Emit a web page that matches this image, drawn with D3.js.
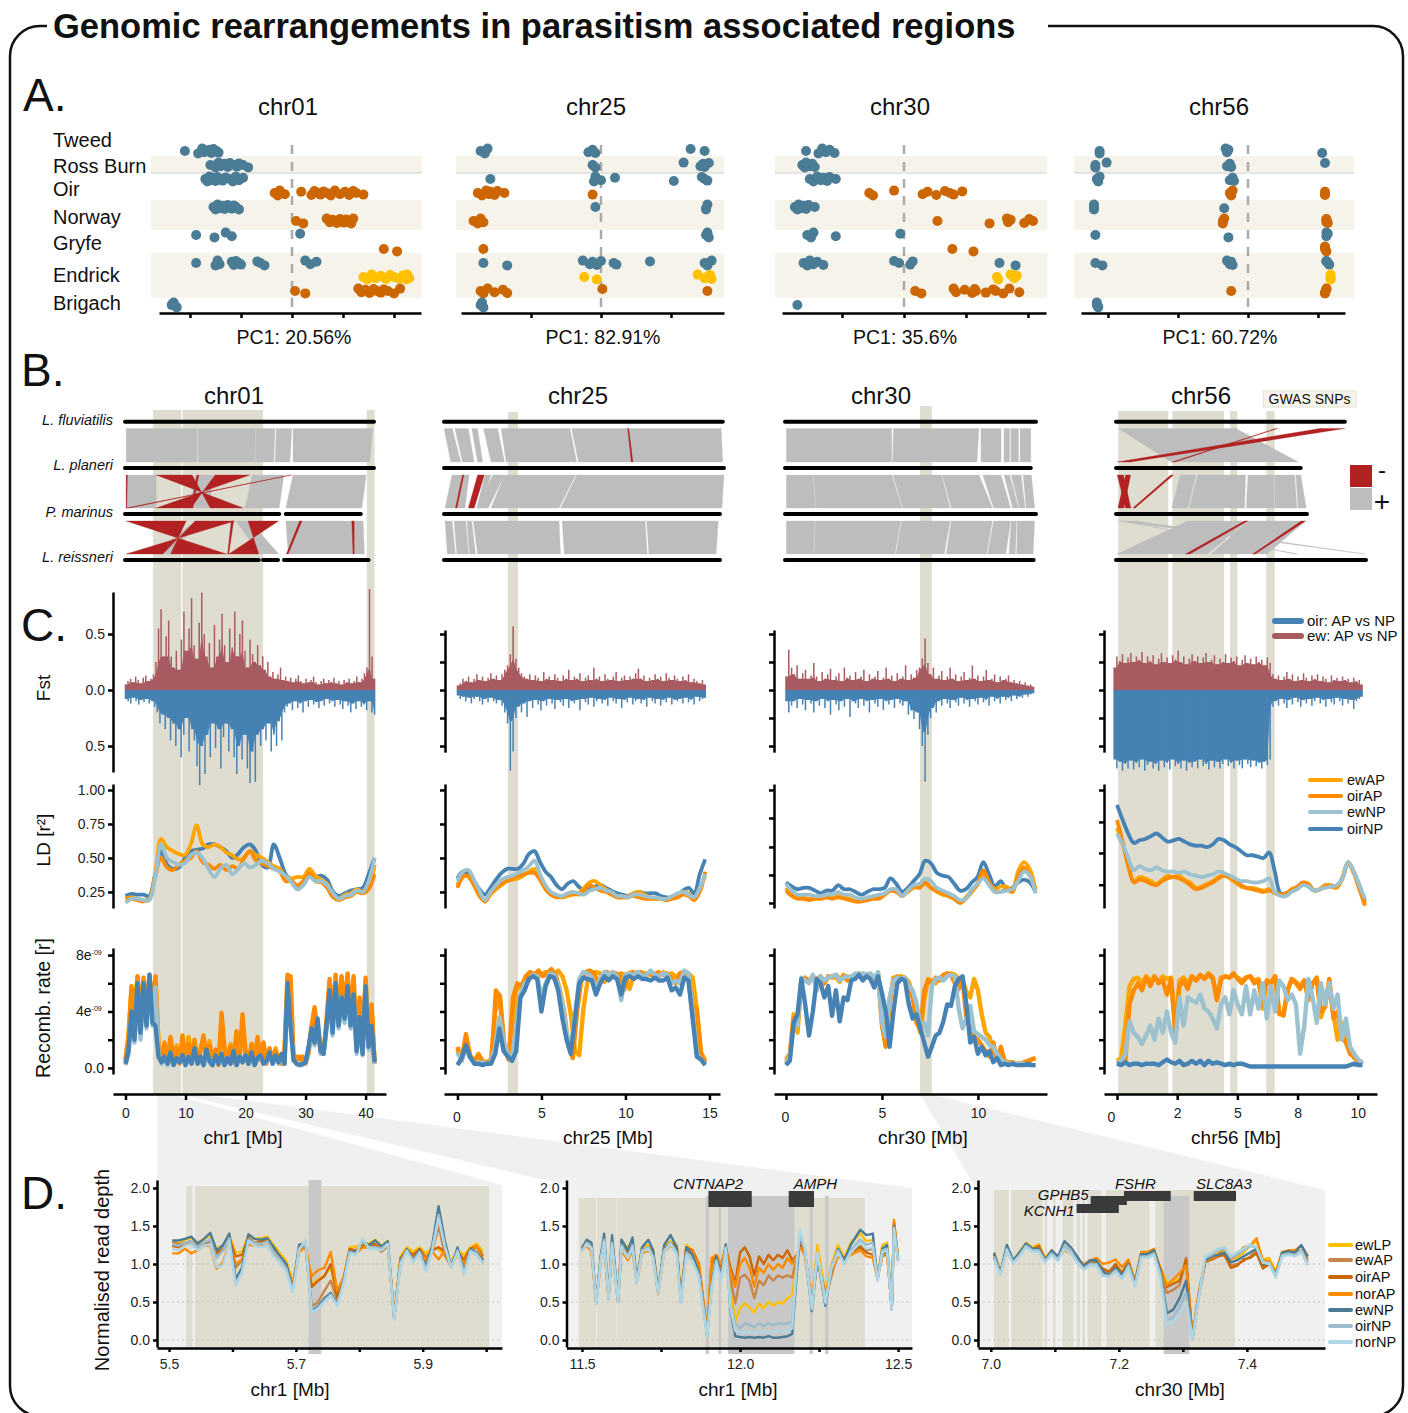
<!DOCTYPE html>
<meta charset="utf-8">
<style>
body { margin: 0; background: #fff; }
svg { display: block; }
text { font-family: "Liberation Sans", Arial, sans-serif; fill: #111; }
.domain, .tick line { stroke: #000; stroke-width: 2.5px; }
.tick text { font-size: 14px; fill: #222; }
</style>
<svg width="1408" height="1413"></svg>
<script src="https://cdn.jsdelivr.net/npm/d3@7"></script>
<script>
// ---- panel A : PC1 scores, one list per row, same order as pcRows
var pcRows = ["tweedN","rossN","oirN","oirA","norN","norA","gryN","gryA","endN","endL","endA","briN"];
var pcColors = {N:"#4a7c96", A:"#cc6600", L:"#ffc000"};
var popNames = ["Tweed","Ross Burn","Oir","Norway","Gryfe","Endrick","Brigach"];
var pcChr01 = [
 [-10.5,-9.2,-8.8,-8.6,-8.1,-7.9,-7.7,-7.4,-7.2],
 [-8,-7.5,-7.2,-7,-6.6,-6.3,-6.1,-5.7,-5.4,-5.2,-4.8,-4.3],
 [-8.5,-8.3,-8.1,-7.9,-7.7,-7.5,-7.3,-7.1,-6.8,-6.5,-6.1,-5.8,-5.5,-5.2,-4.8],
 [-1.7,-1.4,-1.2,-.7,.9,1.9,2.2,2.5,2.8,3.1,3.4,3.8,4.2,4.7,5.2,5.6,6,6.3,7],
 [-7.7,-7.5,-7.3,-7,-6.8,-6.6,-6.3,-6.1,-5.9,-5.7,-5.5,-5.2],
 [.4,1.1,3.4,3.7,4,4.4,4.7,4.9,5.1,5.3,5.6,5.8,6],
 [-9.4,-7.6,-6.5,-5.9,.8],
 [9,10.3],
 [-9.4,-7.5,-7.3,-7.1,-5.9,-5.7,-5.5,-5.2,-5,-3.4,-3.1,-2.7,1.3,1.8,2.4],
 [7,7.4,7.8,8.2,8.7,9.2,9.6,10,10.5,10.9,11,11.2,11.3,11.5],
 [.3,1.3,6.5,6.8,7.2,7.6,8,8.3,8.7,9,9.4,10,10.6],
 [-11.8,-11.3,-11.6,-11.4,-11.7]];
var pcChr25 = [
 [-8.6,-8.3,-8.1,-.9,-.6,-.4,6.4,7.4],
 [-.6,-.4,5.9,7.1,7.3,7.4,7.7],
 [-7.9,-.5,-.4,0,1,5.2,7.2,7.4,7.6],
 [-8.8,-8.5,-8.2,-8,-7.9,-7.6,-7.4,-6.9,-.6],
 [-.4,7.5,7.6,7.5],
 [-9.1,-8.8,-8.6,-8.4],
 [7.5,7.7,7.6],
 [-8.4],
 [-8.4,-6.7,-1.3,-.8,-.6,-.3,0,.9,1.1,3.5,7.4,7.6,7.9],
 [-1.2,-.3,6.9,7.4,7.7,7.9,7.8],
 [-8.6,-8.4,-8.1,-7.6,-7,-6.7,.1,7.6],
 [-8.6,-8.4,-8.5]];
var pcChr30 = [
 [-7.9,-6.9,-6.6,-6.3,-6,-5.6],
 [-8.2,-8,-7.9,-7.6,-7.4,-7.2],
 [-7.6,-7.3,-7,-6.7,-6.5,-6.2,-6,-5.5],
 [-2.8,-2.5,-.8,1.5,1.9,2.6,3.3,3.7,4,4.7],
 [-8.8,-8.6,-8.5,-8.3,-8.1,-7.9,-7.7,-7.2],
 [2.7,6.9,8.3,8.4,8.6,9.7,10.1,10.4],
 [-7.8,-7.5,-7.3,-5.5,-.3],
 [3.9,5.6],
 [-8.1,-7.8,-7.6,-7.3,-7,-6.5,-.8,-.4,.5,.7,7.7,9],
 [7.5,7.6,8.6,8.9,9.1],
 [.9,1.4,4,4.2,4.9,5.5,5.7,5.8,6.6,7.2,7.4,8,8.5,9.3],
 [-8.6]];
var pcChr56 = [
 [-10.6,-10.6,-1.6,-1.5,-1.4,5.3],
 [-10.9,-10.9,-10.1,-1.5,-1.3,-1.2,5.5],
 [-10.8,-10.7,-10.6,-1.3,-1.1,-1],
 [-1.3,-1.2,-1.1,5.5,5.5,5.5],
 [-11,-11,-11,-1.7],
 [-1.8,-1.8,-1.7,5.6,5.6,5.7,5.6],
 [-10.9,-1.4,5.6,5.6,5.7],
 [5.5,5.6,5.5],
 [-10.9,-10.4,-1.5,-1.3,-1.2,-1.1,5.6,5.7,5.8,5.6],
 [5.9,5.9,5.9,5.9],
 [-1.2,5.5,5.6,5.5,5.6],
 [-10.8,-10.7,-10.8,-10.7]];
var pcLabels = ["PC1: 20.56%","PC1: 82.91%","PC1: 35.6%","PC1: 60.72%"];
var jitter = [0,2.4,-2.4,1.2,-1.2,2,-2,0,1.6,-1.6];

// ---- panel B : synteny blocks [row, topStart, topEnd, bottomStart, bottomEnd, strand] in Mb
var speciesNames = ["L. fluviatilis","L. planeri","P. marinus","L. reissneri"];
var chr01Links = [
 [0,.2,12,.2,12,"+"],[0,12.2,21.7,12.2,21.6,"+"],[0,21.8,25,21.7,24.8,"+"],[0,25.2,27.8,25,27.5,"+"],[0,28,41.3,28,40.8,"+"],
 [1,.2,5.2,.2,5.2,"+"],[1,11.7,14.7,10.8,14,"+"],[1,21.2,26.5,20,25.7,"+"],[1,28,40.2,26.8,39.5,"+"],
 [1,5.2,11.2,19.7,14.2,"-"],[1,15,20.8,11,5.2,"-"],[1,27.5,27.8,.2,.8,"-"],[1,.2,.4,.2,.3,"-"],[1,12,12.3,11,11.3,"-"],
 [2,11.7,12.6,4.7,7.5,"+"],[2,18.5,20.8,22.4,25.6,"+"],[2,26.8,39.7,27.2,39.9,"+"],
 [2,.2,10.2,16.9,7.6,"-"],[2,11.7,18.3,6.3,.2,"-"],[2,20.5,25.6,22.3,17.3,"-"],[2,17.7,18.1,17.1,17.3,"-"],[2,29.1,29.5,26.9,27.2,"-"],[2,37.8,38.2,38,38.2,"-"]];
var chr25Links = [
 [0,0,.5,.4,1,"+"],[0,.65,1.45,1.1,1.8,"+"],[0,1.65,2,2,2.3,"+"],[0,2.35,3.2,2.8,3.6,"+"],[0,3.4,7.5,3.7,7.9,"+"],[0,7.6,16.5,8,16.6,"+"],[0,10.93,11,11.15,11.25,"-"],
 [1,.48,1.5,.06,1.25,"+"],[1,2.44,2.8,1.94,2.2,"+"],[1,2.9,3.6,2,2.64,"+"],[1,3.6,7.84,2.8,6.85,"+"],[1,7.9,16.67,6.94,16.55,"+"],[1,1.1,1.19,.68,.77,"-"],[1,2,2.4,1.45,1.8,"-"],
 [2,.06,.48,.2,.68,"+"],[2,.6,1.3,.76,1.45,"+"],[2,1.37,1.65,1.5,1.88,"+"],[2,1.74,6.85,2,6.94,"+"],[2,7.03,11.97,7.16,12.1,"+"],[2,12.06,16.33,12.2,16.2,"+"]];
var chr30Links = [
 [0,.07,5.56,.07,5.56,"+"],[0,5.65,10.1,5.6,10,"+"],[0,10.2,11.25,10.2,11.25,"+"],[0,11.4,11.7,11.4,11.7,"+"],[0,11.76,12.16,11.76,12.16,"+"],[0,12.24,12.8,12.24,12.8,"+"],
 [1,.07,1.45,.07,1.61,"+"],[1,1.47,5.57,1.63,6.1,"+"],[1,5.62,8.15,6.13,8.6,"+"],[1,8.18,10.1,8.66,10.8,"+"],[1,10.3,11.25,10.86,11.75,"+"],[1,11.4,11.7,11.85,12.16,"+"],[1,11.77,12.3,12.2,12.5,"+"],[1,12.4,12.83,12.55,13,"+"],
 [2,.07,1.56,.07,1.49,"+"],[2,1.58,6.03,1.52,5.73,"+"],[2,6.07,8.6,5.77,8.3,"+"],[2,8.65,10.8,8.4,10.5,"+"],[2,10.86,11.75,10.55,11.5,"+"],[2,11.78,12.06,11.66,12,"+"],[2,12.1,13,12.06,12.92,"+"]];
var chr56Links = [
 [0,.1,5,2.3,7.6,"+"],[0,6.65,6.74,2.33,2.46,"-"],[0,8.5,9.54,.05,.6,"-"],
 [1,2.68,3.33,2.33,2.99,"+"],[1,3.4,5.4,3.05,5.36,"+"],[1,5.5,6.56,5.43,6.6,"+"],[1,6.6,7.45,6.62,7.54,"+"],[1,7.5,7.7,7.58,7.93,"+"],
 [1,.05,.31,.4,.62,"-"],[1,.4,.61,.08,.33,"-"],[1,2.28,2.4,.7,.8,"-"],
 [2,.1,.84,10.3,10.4,"+"],[2,.2,.3,7.45,7.6,"+"],[2,2.99,5.49,.04,3.8,"+"],[2,5.49,7.9,3.96,6.3,"+"],
 [2,5.35,5.49,2.9,3.08,"-"],[2,7.72,7.9,5.7,5.8,"-"]];

// ---- panel C : highlighted regions in Mb
var regionsChr01 = [[4.6,9.3],[9.5,22.9],[40.2,41.5]];
var regionsChr25 = [[3,3.6]];
var regionsChr30 = [[6.98,7.6]];
var regionsChr56 = [[.05,2.13],[2.3,4.45],[4.7,5],[6.2,6.55]];

// Fst, upper (ew) and lower (oir) side
var fstEw01 = [.05,.08,.1,.07,.12,.09,.06,.11,.13,.08,.1,.14,.25,.55,.72,.3,.48,.62,.3,.2,.35,.18,.45,.7,.35,.55,.82,.4,.28,.6,.87,.5,.3,.42,.2,.58,.3,.45,.68,.4,.25,.55,.38,.7,.3,.5,.62,.35,.2,.45,.32,.25,.4,.22,.3,.18,.25,.12,.16,.1,.14,.2,.09,.12,.08,.11,.07,.1,.13,.08,.06,.1,.07,.09,.12,.07,.05,.08,.1,.06,.09,.07,.11,.06,.08,.05,.09,.07,.1,.06,.08,.12,.07,.1,.15,.2,.9,.3,.1];
var fstOir01 = [.08,.1,.12,.07,.1,.13,.09,.11,.08,.12,.1,.15,.2,.3,.22,.35,.25,.45,.3,.5,.35,.6,.4,.25,.55,.35,.45,.68,.85,.5,.75,.4,.6,.3,.52,.35,.7,.42,.3,.55,.35,.6,.75,.5,.62,.4,.7,.83,.55,.82,.4,.5,.35,.45,.3,.55,.4,.5,.28,.45,.2,.15,.12,.18,.1,.16,.12,.2,.1,.15,.09,.13,.11,.16,.1,.14,.08,.12,.1,.15,.09,.13,.17,.1,.14,.2,.12,.17,.1,.15,.13,.18,.1,.2,.22];
var fstEw25 = [.04,.06,.1,.08,.12,.07,.1,.14,.09,.12,.08,.11,.15,.1,.13,.09,.14,.18,.22,.32,.57,.28,.2,.15,.12,.1,.14,.09,.13,.11,.08,.16,.1,.12,.09,.14,.11,.08,.13,.1,.18,.09,.12,.1,.15,.08,.11,.13,.09,.2,.1,.12,.08,.14,.1,.09,.12,.16,.08,.11,.13,.09,.12,.1,.15,.19,.1,.13,.08,.11,.09,.14,.1,.12,.08,.15,.11,.09,.13,.1,.08,.12,.09,.14,.07,.1,.08,.06,.09,.05];
var fstOir25 = [.05,.08,.06,.1,.07,.12,.08,.06,.1,.13,.08,.11,.07,.1,.12,.09,.14,.2,.3,.72,.55,.25,.15,.2,.12,.24,.1,.16,.09,.13,.18,.1,.14,.08,.12,.17,.09,.11,.14,.08,.16,.1,.12,.09,.18,.08,.11,.13,.07,.15,.1,.08,.12,.09,.14,.07,.1,.12,.08,.16,.09,.11,.07,.13,.1,.08,.12,.09,.15,.07,.1,.12,.08,.14,.09,.11,.07,.13,.09,.1,.08,.12,.07,.11,.09,.13,.06,.1,.08,.07];
var fstEw30 = [.12,.36,.2,.14,.22,.1,.15,.18,.1,.13,.24,.12,.08,.16,.1,.14,.19,.09,.12,.15,.08,.2,.11,.13,.09,.16,.1,.12,.18,.08,.14,.1,.12,.17,.09,.11,.2,.1,.13,.08,.15,.1,.12,.22,.09,.14,.11,.18,.2,.28,.46,.24,.14,.2,.1,.13,.17,.09,.12,.2,.1,.14,.08,.12,.16,.09,.11,.22,.1,.13,.08,.12,.18,.09,.1,.14,.07,.12,.09,.1,.13,.07,.09,.06,.08,.05,.07,.04,.05,.03];
var fstOir30 = [.1,.2,.14,.1,.16,.08,.13,.18,.09,.12,.2,.1,.14,.08,.16,.1,.22,.09,.13,.18,.1,.15,.08,.24,.1,.12,.16,.08,.14,.1,.2,.09,.12,.15,.08,.18,.1,.13,.09,.16,.08,.12,.14,.1,.22,.18,.26,.2,.35,.5,.82,.4,.25,.16,.2,.1,.14,.08,.12,.16,.09,.11,.14,.07,.12,.09,.15,.08,.1,.13,.07,.11,.09,.14,.06,.1,.08,.12,.06,.09,.07,.1,.05,.08,.06,.07,.04,.06,.04,.03];
var fstEw56 = [.2,.3,.26,.32,.24,.29,.33,.25,.3,.27,.34,.24,.3,.26,.31,.23,.28,.33,.25,.29,.24,.31,.27,.35,.25,.3,.23,.28,.32,.26,.3,.24,.29,.33,.25,.27,.31,.23,.28,.25,.32,.24,.29,.26,.3,.22,.27,.31,.24,.28,.23,.3,.25,.27,.22,.29,.24,.14,.1,.13,.09,.12,.16,.1,.14,.08,.12,.09,.15,.11,.08,.13,.1,.14,.08,.12,.1,.07,.13,.09,.11,.08,.12,.09,.1,.07,.11,.08,.09,.05];
var fstOir56 = [.62,.7,.64,.72,.66,.7,.63,.71,.65,.69,.62,.72,.67,.64,.7,.66,.72,.63,.69,.65,.71,.62,.68,.66,.7,.63,.72,.65,.69,.64,.7,.62,.68,.66,.71,.63,.69,.64,.7,.66,.62,.68,.65,.7,.63,.67,.7,.62,.66,.69,.63,.68,.65,.7,.64,.67,.62,.15,.1,.14,.08,.12,.16,.09,.13,.07,.11,.15,.09,.12,.08,.14,.1,.07,.12,.09,.15,.08,.11,.13,.07,.1,.14,.08,.12,.09,.17,.1,.08,.06];

// LD [r2]
var ldEwAP01 = [.2,.21,.2,.19,.19,.38,.64,.58,.55,.53,.52,.6,.74,.6,.58,.6,.58,.54,.52,.49,.5,.55,.52,.5,.47,.44,.42,.36,.35,.36,.36,.42,.37,.34,.31,.22,.2,.23,.24,.27,.25,.28,.45];
var ldOirAP01 = [.2,.2,.19,.18,.2,.36,.5,.43,.41,.45,.48,.5,.55,.47,.45,.42,.45,.41,.44,.42,.5,.55,.48,.46,.44,.42,.4,.33,.33,.3,.33,.39,.33,.32,.28,.21,.19,.21,.22,.25,.24,.27,.38];
var ldEwNP01 = [.17,.2,.2,.19,.19,.35,.6,.5,.47,.45,.46,.52,.54,.5,.42,.36,.42,.45,.38,.42,.46,.43,.45,.48,.46,.42,.4,.37,.32,.27,.3,.36,.33,.33,.3,.24,.2,.22,.23,.26,.25,.33,.5];
var ldOirNP01 = [.22,.235,.23,.23,.22,.38,.55,.45,.42,.43,.5,.55,.56,.57,.6,.6,.58,.55,.5,.53,.58,.6,.55,.45,.43,.6,.5,.38,.33,.27,.33,.36,.36,.37,.34,.25,.22,.24,.26,.27,.28,.38,.5];
var ldEwAP25 = [.3,.37,.36,.3,.24,.18,.23,.27,.3,.33,.34,.35,.37,.4,.42,.35,.28,.23,.22,.21,.22,.23,.24,.28,.32,.33,.3,.27,.24,.22,.21,.21,.24,.25,.23,.21,.2,.2,.19,.21,.23,.25,.24,.2,.27,.37];
var ldOirAP25 = [.28,.36,.37,.3,.22,.18,.24,.28,.31,.33,.35,.37,.38,.39,.39,.34,.27,.23,.21,.22,.23,.24,.23,.26,.3,.28,.26,.25,.23,.21,.21,.22,.22,.21,.2,.2,.2,.2,.19,.2,.21,.23,.22,.19,.25,.4];
var ldEwNP25 = [.33,.4,.41,.34,.26,.19,.25,.3,.34,.36,.37,.39,.41,.44,.48,.38,.3,.25,.23,.22,.24,.25,.24,.23,.26,.27,.28,.26,.25,.22,.22,.21,.23,.23,.22,.21,.21,.2,.2,.22,.24,.25,.23,.21,.28,.38];
var ldOirNP25 = [.35,.4,.38,.33,.27,.23,.28,.34,.39,.42,.42,.42,.46,.53,.55,.47,.4,.36,.3,.27,.31,.33,.29,.26,.27,.29,.3,.28,.26,.24,.23,.22,.24,.25,.24,.24,.24,.22,.21,.21,.23,.26,.28,.24,.38,.49];
var ldEwAP30 = [.28,.23,.22,.21,.2,.21,.21,.23,.22,.24,.21,.2,.18,.19,.2,.21,.21,.23,.26,.26,.22,.25,.28,.29,.31,.28,.25,.23,.22,.2,.17,.21,.26,.3,.38,.32,.27,.29,.29,.26,.4,.47,.42,.27];
var ldOirAP30 = [.26,.22,.2,.2,.19,.2,.2,.21,.2,.21,.2,.19,.18,.18,.19,.2,.2,.23,.26,.25,.22,.26,.29,.28,.32,.28,.26,.24,.22,.2,.17,.2,.25,.31,.41,.32,.25,.25,.27,.25,.36,.43,.37,.26];
var ldEwNP30 = [.31,.26,.23,.23,.23,.22,.22,.23,.23,.25,.23,.23,.21,.2,.21,.22,.23,.24,.27,.27,.22,.26,.3,.31,.35,.33,.28,.26,.24,.22,.19,.2,.27,.31,.35,.3,.25,.25,.26,.27,.33,.4,.37,.24];
var ldOirNP30 = [.32,.29,.27,.28,.28,.26,.24,.26,.26,.3,.27,.27,.25,.23,.25,.27,.27,.28,.35,.31,.25,.28,.33,.38,.48,.46,.39,.37,.36,.31,.26,.27,.32,.36,.47,.38,.29,.33,.27,.28,.32,.34,.32,.25];
var ldEwAP56 = [.72,.6,.45,.33,.36,.35,.33,.31,.34,.37,.36,.37,.34,.32,.28,.29,.31,.33,.36,.37,.35,.32,.29,.28,.28,.27,.26,.27,.24,.23,.23,.26,.28,.31,.3,.26,.27,.3,.29,.28,.36,.47,.4,.28,.17];
var ldOirAP56 = [.78,.62,.44,.32,.34,.33,.31,.3,.33,.35,.36,.35,.33,.3,.27,.28,.3,.32,.35,.37,.36,.33,.3,.28,.27,.26,.25,.26,.25,.23,.24,.27,.29,.32,.31,.26,.27,.29,.3,.29,.35,.46,.39,.27,.15];
var ldEwNP56 = [.68,.6,.5,.41,.44,.42,.41,.43,.41,.4,.4,.39,.4,.38,.37,.36,.37,.38,.4,.39,.37,.35,.33,.33,.32,.32,.33,.35,.25,.22,.22,.25,.27,.3,.29,.26,.27,.28,.29,.3,.35,.47,.4,.3,.2];
var ldOirNP56 = [.89,.78,.68,.61,.63,.64,.66,.68,.65,.62,.63,.64,.62,.6,.59,.59,.58,.6,.64,.63,.6,.58,.55,.52,.52,.51,.5,.54,.4,.24,.24,.26,.28,.31,.29,.26,.27,.3,.29,.29,.35,.47,.4,.3,.18];

// recombination rate, units of 1e-9
var rrEwAP01 = [.6,2.4,5.5,3.6,6.4,4,6.2,3.6,6.5,4,6.4,1.8,.6,1.5,.5,2,.4,1.6,.6,1.9,.4,2.2,.8,1.6,.4,1.4,2.1,.6,1.9,.5,1.2,.4,3,1.2,.6,1.7,.5,2.2,.8,3,1.2,.5,1.5,.6,2,.7,1.5,.4,1.2,.6,1.4,.5,.4,1.1,6.4,6,.7,.6,.8,.5,.4,1,2.6,4,2.2,1.4,1.2,3,6,3.5,6.3,3.2,6.4,4.5,6.5,3.5,6.3,1.7,4.6,1.4,6.2,2,4.2,.4];
var rrOirAP01 = [.5,2,5.8,4,6.5,3.5,6.4,4,6.6,4.2,6.5,1.5,.5,1.8,.4,2.2,.6,1.4,.3,2.3,.5,1.7,.6,2,.3,1.2,2.3,.5,1.6,.4,1.3,.2,3.9,1.4,.5,1.5,.4,2.6,.6,3.8,1,.3,1.7,.4,2.2,.6,1.8,.3,1.4,.5,1.2,.4,.3,1.3,6.6,6.5,.5,.8,.6,.8,.3,1.2,3,4.3,2.5,1.5,1,3.5,6.3,3,6.6,3.5,6.5,4,6.7,3,6.5,1.5,5,1.5,6.4,1.8,4.5,.3];
var rrEwNP01 = [.2,1,3.5,1.8,5.8,2,5.8,2.8,6.2,3,5.7,1,.3,.7,.2,.9,.2,.6,.4,.7,.2,.8,.3,1.1,.3,.7,.2,1.1,.4,.2,.8,.3,.8,.2,.6,.3,1,.2,.7,.4,.8,.3,.9,.2,.7,.8,.3,.4,.9,.3,.8,.3,.8,.3,5.8,3,.5,.3,.2,.2,.4,1.3,2.5,1.6,3.2,1,1,2.7,5.2,2.3,5.7,2.8,4.8,3.2,5.6,2.8,5,1,3.4,.9,5.6,1.3,2.8,.3];
var rrOirNP01 = [.3,1.2,4,2,6,2.5,6,3,6.6,3.2,3,.8,.4,.8,.3,1.1,.2,.7,.4,.9,.2,.8,.3,1.4,.3,.8,.2,1.3,.5,.2,.9,.3,1,.2,.7,.3,1.2,.2,.8,.4,.9,.3,1.1,.2,.7,.9,.3,.5,1.1,.3,.9,.4,1,.3,6,3,.6,.3,.2,.3,.4,1.5,2.8,1.8,3.5,1.2,1,3,5.5,2.5,6,3,5,3.5,5.8,3,5.2,1.2,3.6,1,5.8,1.5,3,.4];
var rrEwAP25 = [1.3,.6,2.2,.9,.5,1,.5,.4,.6,4,5.2,1.8,.8,1.2,5.5,5.8,6.2,6.4,6.7,6.5,6.6,6.8,6.5,6.6,6.9,6.5,5.5,3.8,1.2,.9,4.2,6.2,6.7,6.8,6.7,6.1,6.6,6.8,6.5,6.7,6.6,5.6,6.6,6.8,6.7,6.7,6.6,6.7,6.5,6.8,6.6,6.7,6.5,6,6.7,6.7,6.4,4.2,1.1,.5];
var rrOirAP25 = [1.5,.5,2.4,.8,.4,.9,.4,.4,.5,5.5,5,1.5,.6,5,6,5.8,6.5,6.8,6.6,6.9,6.5,6.7,7,6.6,5.5,4,1.5,.7,4,6.2,6.8,6.9,6.7,6,6.6,6.8,6.5,6.7,6.6,5.5,6.7,6.8,6.7,6.8,6.6,6.7,6.5,6.8,6.6,6.7,6.4,6,6.7,6.8,6.5,4.4,4.2,1,.4];
var rrEwNP25 = [1.1,.5,1.4,.7,.4,.3,.4,.3,.4,1.5,3.6,1.9,1,.6,3,5.2,6,6.2,6.6,6.5,5,6,6.7,6.6,5.8,4.5,2.5,1.4,3.8,6.3,6.8,6.7,6.4,5.5,6.3,6.8,6.6,6.8,6.5,4.8,6.6,6.7,6.6,6.8,6.5,6.6,6.9,6.6,6.5,6.7,6.6,6,6.2,6,6.9,6.7,4,1,.6,.3];
var rrOirNP25 = [.2,.7,1.6,.8,.3,.3,.2,.3,.3,1,2.8,1.2,.8,.5,1.2,5,5.5,6.3,6.5,6.3,4,5.8,6.5,6.4,5.5,3.5,2,1,3.5,6,6.4,6.3,6.2,5.2,6,6.5,6.2,6.5,6.3,5.2,6.4,6.5,6.3,6.5,6.3,6.3,6.2,6.4,6.2,6.2,6.4,5.5,5.7,5.2,6.4,6.2,3.5,.8,.6,.2];
var rrEwAP30 = [.6,1,3.8,2.5,6.2,6.4,6.1,6.4,6.3,6.5,6,6.4,6.5,6.4,6.1,6.6,6.3,6.4,6.6,6.6,6.4,6.6,6.5,6.3,6.6,3.5,1.6,4.5,6.4,6.3,6.5,6.4,6.1,5.2,3.5,2.5,4.8,6.3,6.2,6,6.4,6.3,6.6,6.7,6.6,6.3,6.2,5.4,5,6.3,5.5,3.8,2.5,2.2,1.2,.8,.6,.5,.4,.4,.3,.3,.3,.4,.6,.7];
var rrOirAP30 = [.4,.8,3.5,3,6,6.3,6.2,6.5,6.2,6.4,6,6.5,6.4,6.6,6.3,6.5,6.2,6.5,6.6,6.7,6.4,6.6,6.5,6.4,6.6,3,1.5,4.8,6.3,6.5,6.4,6.3,5.8,5,3.2,2.7,5.5,6.2,6,6.4,6.2,6.6,6.7,6.6,6,5.6,6.3,3.5,2.8,2.2,2,1.6,1.2,.8,1.8,.6,1.5,.4,.3,.4,.3,.3,.4,.5,.6,.7];
var rrEwNP30 = [.3,.8,3,3,6.4,6.2,6,6.6,5.5,6.5,6.2,6.4,6.5,6.6,6.2,6.4,6.5,6.4,6.7,6.6,6.7,6.6,6.7,6.4,6.8,3.2,2.2,5,6.2,6.4,6.3,6.4,5.8,5.5,4.6,3,3.2,2.3,5.8,6.3,6.4,6.2,6.5,6.6,6.5,4.2,2.8,3.5,4.4,2.6,2.4,2.2,2,1.6,1.5,1,.6,.4,.3,.3,.3,.3,.3,.2,.2,.2];
var rrOirNP30 = [.2,.5,3.2,3.8,6.3,4.5,2.3,4,6.3,6,5,5.8,3.7,5.5,3.3,5,4.8,6.2,6.3,6.6,6.2,6.5,6.3,5.7,6.5,5.3,4,1.5,4,6,6.3,6.2,4.5,3.5,3.8,2.8,1.8,.8,1.5,2.3,2.5,3.3,4.5,4.4,5.8,6.3,6.5,4.5,1.8,2.2,1,1.5,.9,1.2,.4,.7,.2,.3,.2,.3,.2,.2,.2,.3,.2,.2];
var rrEwAP56 = [.5,.7,3,5.8,6.3,6.4,6,6.5,6.2,6.4,6.1,6.5,6.3,6.4,2.8,6.2,6.4,6,6.5,6.2,6.5,6.4,6.6,6.3,5,6.4,6.5,6.4,6.6,6.4,6.2,6.4,6.5,6.2,6.3,4.2,6.2,6.1,6.5,3.8,3.9,5.5,6.3,6.1,5.8,6.2,5,6,6.3,3.6,4.5,6.2,3.8,2,3.2,2,1.2,.7,.5,.4];
var rrOirAP56 = [.3,.4,.5,4.5,5.5,6,5.5,6.4,5.8,6.5,6,6.2,5.2,6.3,2.5,5.8,6.2,5.6,6.5,6.2,6.6,6.3,6.7,6.4,4.8,6.3,6.5,6.4,6.7,6.3,6,6.4,6.5,6,6.2,4.5,6.2,6,6.5,3.9,3.7,5.5,6.3,6,5.6,6.2,4.8,6,6.4,4,4.3,6.3,3.5,4,2.2,1.8,1,.8,.5,.3];
var rrEwNP56 = [.3,.5,1,3.3,2.5,2.2,1.7,2.3,3,2,3.5,2.5,4,2.5,1.8,5,3,5,4.8,4.6,5.2,4.2,4,3.5,2.8,4.5,5,3.8,5.5,4.5,3.8,5.8,3.8,5.5,4.2,6,3.5,5.8,4,6.2,5.8,4.8,5.2,4.5,1,3,6.3,5,3.2,6,4.5,6,4.2,5.2,2,3.5,1.5,1,.6,.3];
var rrOirNP56 = [.3,.2,.4,.2,.3,.3,.2,.3,.3,.3,.2,.4,.6,.4,.3,.5,.2,.3,.5,.3,.5,.2,.5,.3,.4,.3,.2,.3,.2,.3,.3,.2,.1,.1,.1,.1,.1,.1,.1,.1,.1,.1,.1,.1,.1,.1,.1,.1,.1,.1,.1,.1,.1,.1,.1,.1,.2,.3,.2,.2];

// ---- panel D : normalised read depth x100
var d1EwLP = [130,128,132,134,128,133,138,120,124,138,115,116,138,133,134,136,125,114,104,76,118,128,73,80,85,95,60,82,122,123,125,127,132,124,130,30,110,122,116,122,114,122,120,110,104,118,112,122,127,116];
var d1EwAP = [128,126,128,130,124,128,132,112,118,132,95,105,132,128,130,130,118,106,96,70,116,124,44,50,65,78,52,78,118,118,122,122,124,116,124,30,106,118,110,118,102,116,150,112,96,118,98,118,122,106];
var d1OirAP = [124,122,126,128,122,126,128,115,120,134,110,112,134,128,130,132,120,110,98,72,118,126,70,78,84,100,58,78,120,118,124,125,126,118,126,30,108,118,112,120,108,118,122,116,98,116,106,120,124,110];
var d1NorAP = [114,114,120,114,118,124,124,94,102,130,100,106,126,124,124,124,114,104,94,74,116,122,84,92,95,116,65,82,116,114,122,122,122,120,124,30,104,116,108,116,106,116,106,118,96,114,100,116,124,104];
var d1EwNP = [131,131,133,136,127,133,141,118,125,140,80,95,139,133,132,134,122,110,100,66,125,128,38,44,55,62,47,78,117,115,130,125,131,123,130,28,103,120,105,118,95,125,176,130,97,122,88,120,115,105];
var d1OirNP = [126,124,128,130,122,128,132,108,118,134,74,90,132,128,126,130,116,106,94,64,120,128,36,42,52,60,46,76,116,113,132,122,122,120,127,27,102,118,104,116,92,120,165,124,96,118,87,118,114,102];
var d1NorNP = [120,118,124,126,118,124,126,96,98,130,72,88,130,124,122,124,110,102,90,63,118,132,36,41,50,58,45,74,114,112,134,120,120,118,126,27,100,117,102,114,90,118,160,122,95,116,86,116,112,100];
var d2X = [11.5,11.515,11.53,11.545,11.56,11.57,11.584,11.595,11.614,11.625,11.645,11.66,11.673,11.69,11.71,11.725,11.741,11.76,11.78,11.8,11.8125,11.83,11.85,11.87,11.896,11.91,11.925,11.94,11.955,11.97,11.985,12,12.015,12.03,12.045,12.06,12.075,12.09,12.105,12.12,12.135,12.15,12.165,12.18,12.19,12.205,12.227,12.245,12.27,12.29,12.31,12.33,12.35,12.38,12.4,12.42,12.435,12.45,12.465,12.48,12.487,12.5];
var d2EwLP = [122,128,120,50,110,132,56,130,52,130,122,128,78,122,125,118,65,122,130,125,55,125,118,100,8,100,108,95,125,65,24,42,48,43,36,48,42,50,45,50,48,55,60,110,130,115,50,125,60,100,125,108,128,140,130,132,82,125,128,42,150,110];
var d2EwAP = [120,126,118,48,108,128,54,125,50,122,112,120,76,118,120,112,62,118,126,118,52,118,112,95,8,100,105,92,120,80,48,82,86,78,55,78,72,85,78,85,82,85,82,110,128,112,48,105,55,85,115,105,118,125,118,120,80,115,118,40,155,105];
var d2OirAP = [122,130,120,50,112,130,55,128,52,125,115,125,78,118,122,115,63,120,128,122,54,122,118,100,9,105,110,98,122,95,75,115,122,110,85,110,100,112,105,112,108,118,105,112,125,115,50,108,60,90,112,108,115,122,115,112,82,112,115,42,155,108];
var d2NorAP = [118,124,116,49,106,126,54,122,50,118,105,118,74,114,118,110,60,116,124,118,52,120,116,98,8,108,112,100,118,88,70,100,108,95,70,95,88,100,92,100,95,108,100,112,122,112,48,105,58,90,110,105,112,118,110,108,80,110,112,42,158,105];
var d2EwNP = [120,132,128,50,112,140,56,138,52,132,118,135,78,122,132,118,64,125,138,122,52,122,112,88,5,72,110,82,126,40,5,4,3,4,3,4,3,5,3,3,4,5,8,90,138,120,38,110,45,95,120,105,125,145,138,140,80,120,125,40,150,105];
var d2OirNP = [118,128,122,48,108,132,55,128,50,125,110,125,75,118,122,110,62,118,128,115,50,115,105,85,5,70,105,80,122,45,22,15,22,20,17,22,18,22,20,22,21,22,25,100,140,118,40,112,48,98,118,100,118,132,125,128,80,118,120,40,148,105];
var d2NorNP = [116,126,120,47,106,130,54,126,49,122,108,122,74,116,120,108,61,116,126,112,49,112,102,82,4,68,102,78,120,42,12,9,11,10,9,11,10,10,11,12,11,12,15,105,145,120,42,115,50,95,115,100,115,128,120,122,78,115,118,40,146,103];
var d3EwLP = [115,90,122,104,116,128,122,126,108,118,108,122,118,106,95,103,105,92,85,95,84,100,72,112,112,116,95,75,78,80,100,3,62,105,110,114,118,108,108,115,124,130,106,108,90,115,118,113,118,104];
var d3EwAP = [108,88,120,104,114,125,120,122,106,116,108,120,116,104,94,102,103,92,86,96,86,102,74,112,111,118,92,62,66,72,108,3,60,102,106,110,112,98,100,104,110,118,96,102,84,112,116,112,116,102];
var d3OirAP = [112,88,122,104,115,126,118,124,106,116,110,120,118,102,94,100,103,94,90,100,88,104,72,114,114,118,94,70,74,78,106,3,58,104,106,110,112,95,98,106,108,114,94,100,86,114,116,114,118,106];
var d3NorAP = [106,90,118,102,112,124,118,120,104,114,108,118,114,106,100,104,108,100,102,106,96,106,78,116,116,120,90,72,80,88,98,3,64,104,108,112,122,106,112,122,124,134,104,104,88,116,118,118,124,110];
var d3EwNP = [115,88,125,105,115,127,120,120,105,118,110,130,122,110,97,105,105,90,85,95,85,100,75,113,113,118,90,35,40,55,78,2,60,105,110,112,115,102,105,110,115,120,100,100,85,115,117,115,125,110];
var d3OirNP = [110,86,120,102,112,124,118,118,104,114,106,124,118,104,94,100,100,86,84,92,82,98,72,110,110,114,86,26,30,44,62,2,58,108,112,118,120,108,112,118,124,122,102,102,84,112,114,112,118,102];
var d3NorNP = [106,86,118,100,110,122,116,116,102,112,104,120,114,102,92,98,98,84,83,90,80,96,70,108,108,112,82,20,24,34,50,2,56,110,114,120,122,110,116,120,126,122,102,100,82,110,112,110,116,98];
var d1Regions = [[5.527,5.537],[5.541,6.005]];
var d2Regions = [[11.49,11.545],[11.547,11.61],[11.612,12.395]];
var d3Regions = [[7.005,7.028],[7.032,7.081],[7.084,7.088],[7.097,7.101],[7.112,7.129],[7.134,7.139],[7.143,7.147],[7.151,7.173],[7.18,7.248],[7.257,7.381]];
var d1Dark = [[5.72,5.74]];
var d2Dark = [[11.891,11.902],[11.932,11.94],[11.962,12.172],[12.22,12.23],[12.269,12.28]];
var d3Dark = [[7.27,7.31]];
var d2Genes = [["CNTNAP2",11.9,12.037,"top"],["AMPH",12.154,12.234,"top"]];
var d3Genes = [["KCNH1",7.134,7.2,"low"],["GPHB5",7.156,7.2125,"mid"],["FSHR",7.208,7.281,"top"],["SLC8A3",7.317,7.383,"top"]];

var svg = d3.select("svg");
var ink = "#000";

// helper to lay a list of values out along a chromosome
function along(vals, len, start) {
	start = start || 0;
	return vals.map(function(v, i) { return [start + i * len / (vals.length - 1), v]; });
}
function rotLabel(x, y, txt, size) {
	return svg.append("text").attr("transform", "translate(" + x + "," + y + ") rotate(-90)")
		.attr("text-anchor", "middle").style("font-size", size + "px").text(txt);
}
function label(x, y, txt, size, anchor) {
	return svg.append("text").attr("x", x).attr("y", y).attr("text-anchor", anchor || "middle")
		.style("font-size", size + "px").text(txt);
}
function cleanAxis(g) {
	g.selectAll(".domain").attr("stroke", ink);
	g.selectAll(".tick line").attr("stroke", ink);
}
// Fst is drawn as a solid mass (lowest of the three nearest values) with one thin spike per value
function drawFst(x, y, rows, sign, color) {
	var floor = rows.map(function(d, i) {
		return [d[0], d3.min(rows.slice(Math.max(0, i - 1), i + 2), function(r) { return r[1]; })];
	});
	var mass = d3.area().x(function(d) { return x(d[0]); }).y0(y(0)).y1(function(d) { return y(sign * d[1]); });
	svg.append("path").attr("d", mass(floor)).attr("fill", color);
	svg.append("g").selectAll("line").data(rows).join("line")
		.attr("x1", function(d) { return x(d[0]); }).attr("x2", function(d) { return x(d[0]); })
		.attr("y1", y(0)).attr("y2", function(d) { return y(sign * d[1]); })
		.attr("stroke", color).attr("stroke-width", 1.5);
}

// frame and title
svg.append("rect").attr("x", 10).attr("y", 26).attr("width", 1393).attr("height", 1390).attr("rx", 30)
	.attr("fill", "#fff").attr("stroke", "#111").attr("stroke-width", 2.5);
svg.append("rect").attr("x", 47).attr("y", 8).attr("width", 1001).attr("height", 38).attr("fill", "#fff");
label(53, 38, "Genomic rearrangements in parasitism associated regions", 34.5, "start").style("font-weight", "bold");
label(23, 111, "A.", 46, "start");
label(21, 386, "B.", 46, "start");
label(21, 641, "C.", 46, "start");
label(21, 1209, "D.", 46, "start");

// zoom call-outs behind panel D
var callouts = [
 [[157,1094],[170,1094],[502,1185],[502,1350],[157,1350]],
 [[178,1094],[197,1094],[912,1188],[912,1350],[566,1350],[566,1185]],
 [[920,1094],[930,1094],[1325,1190],[1325,1350],[977,1350],[977,1190]]];
svg.append("g").selectAll("polygon").data(callouts).join("polygon")
	.attr("points", function(d) { return d.join(" "); }).attr("fill", "#f0f0f0");

// ---------- panel A
var pcY = d3.scalePoint().domain(pcRows).range([151, 305]);
var pcPanels = [
 {title:"chr01", tx:288, data:pcChr01, zero:292, unit:10.2, axis:[159,421], ticks:[-10,-5,0,5,10], band:[151,422], lx:294},
 {title:"chr25", tx:596, data:pcChr25, zero:601, unit:14, axis:[461,724], ticks:[-5,0,5], band:[456,724], lx:603},
 {title:"chr30", tx:900, data:pcChr30, zero:904, unit:12.4, axis:[782,1046], ticks:[-5,0,5,10], band:[775,1047], lx:905},
 {title:"chr56", tx:1219, data:pcChr56, zero:1248, unit:14, axis:[1081,1345], ticks:[-10,-5,0,5], band:[1074,1354], lx:1220}];
var popBands = [[156,173],[200,230],[253,298]];
var popY = [147,173,196,224,250,282,310];
popNames.forEach(function(n, i) { label(53, popY[i], n, 20, "start"); });
pcPanels.forEach(function(p, pi) {
	label(p.tx, 115, p.title, 24);
	var x = d3.scaleLinear()
		.domain([(p.axis[0] - p.zero) / p.unit, (p.axis[1] - p.zero) / p.unit]).range(p.axis);
	popBands.forEach(function(b, i) {
		svg.append("rect").attr("x", p.band[0]).attr("y", b[0]).attr("width", p.band[1] - p.band[0])
			.attr("height", b[1] - b[0]).attr("fill", "#f6f3ea");
		if (i == 0) svg.append("line").attr("x1", p.band[0]).attr("x2", p.band[1]).attr("y1", b[1]).attr("y2", b[1])
			.attr("stroke", "#cfcfcf").attr("stroke-width", 1.2);
	});
	svg.append("line").attr("x1", x(0)).attr("x2", x(0)).attr("y1", 145).attr("y2", 313)
		.attr("stroke", "#aaa").attr("stroke-width", 2.5).attr("stroke-dasharray", "9 8");
	var g = svg.append("g").attr("transform", "translate(0,313)")
		.call(d3.axisBottom(x).tickValues(p.ticks).tickSize(5).tickSizeOuter(0).tickFormat(""));
	cleanAxis(g);
	pcRows.forEach(function(row, ri) {
		svg.append("g").selectAll("circle").data(p.data[ri]).join("circle")
			.attr("cx", function(d) { return x(d); })
			.attr("cy", function(d, i) { return pcY(row) + jitter[i % jitter.length]; })
			.attr("r", 5).attr("fill", pcColors[row.slice(-1)]);
	});
	label(p.lx, 344, pcLabels[pi], 19.5);
});

// ---------- shared x scales for panels B/C
var chroms = [
 {name:"chr01", lab:"chr1 [Mb]", lx:243, x:d3.scaleLinear().domain([-2.08,43.4]).range([113,386]), axX:113, ticks:[0,10,20,30,40], tl:["0","10","20","30","40"],
  regions:regionsChr01, top:410, syn:[125,374,41.5], links:chr01Links, btx:234,
  lines:[[[0,41.5]],[[0,41.5]],[[0,25.7],[26.8,39.3]],[[0,22.3],[23,25.5],[26.5,40.6]]],
  fst:[fstEw01,fstOir01,41.5,0], fstAxis:[-.732,.875],
  ld:[ldEwAP01,ldOirAP01,ldEwNP01,ldOirNP01,41.5], ldTicks:[1,.75,.5,.25],
  rr:[rrEwAP01,rrOirAP01,rrEwNP01,rrOirNP01,41.5]},
 {name:"chr25", lab:"chr25 [Mb]", lx:608, x:d3.scaleLinear().domain([-.8,15.63]).range([444,720]), axX:445, ticks:[0,5,10,15], tl:["0","5","10","15"],
  regions:regionsChr25, top:412, syn:[444,724,16.67], links:chr25Links, btx:578,
  lines:[[[0,16.6]],[[0,16.67]],[[0,16.43]],[[0,16.43]]],
  fst:[fstEw25,fstOir25,14.75,0], fstAxis:[-.555,.536],
  ld:[ldEwAP25,ldOirAP25,ldEwNP25,ldOirNP25,14.75], ldTicks:[1,.75,.5,.25],
  rr:[rrEwAP25,rrOirAP25,rrEwNP25,rrOirNP25,14.75]},
 {name:"chr30", lab:"chr30 [Mb]", lx:923, x:d3.scaleLinear().domain([-.625,13.6]).range([774,1047]), axX:774, ticks:[0,5,10], tl:["0","5","10"],
  regions:regionsChr30, top:406, syn:[785,1036,13.07], links:chr30Links, btx:881,
  lines:[[[0,13.07]],[[0,12.8]],[[0,13.07]],[[0,12.95]]],
  fst:[fstEw30,fstOir30,12.9,0], fstAxis:[-.555,.536],
  ld:[ldEwAP30,ldOirAP30,ldEwNP30,ldOirNP30,13], ldTicks:[1,.794,.581,.375,.169],
  rr:[rrEwAP30,rrOirAP30,rrEwNP30,rrOirNP30,13]},
 {name:"chr56", lab:"chr56 [Mb]", lx:1236, x:d3.scaleLinear().domain([-.54,10.8]).range([1104,1377]), axX:1104, ticks:[0,2.5,5,7.5,10], tl:["0","2","5","8","10"],
  regions:regionsChr56, top:411, syn:[1116,1366,10.42], links:chr56Links, btx:1201,
  lines:[[[0,9.54]],[[0,7.7]],[[0,7.96]],[[0,10.42]]],
  fst:[fstEw56,fstOir56,10.3,-.12], fstAxis:[-.555,.536],
  ld:[ldEwAP56,ldOirAP56,ldEwNP56,ldOirNP56,10.3], ldTicks:[1,.765,.537,.303],
  rr:[rrEwAP56,rrOirAP56,rrEwNP56,rrOirNP56,10.2]}];

var lineY = [421.7,468,514,560];
var linkY = [[428.5,462],[475,508],[521,554]];
var strandColor = {"+":"#bdbdbd", "-":"#b22222"};
speciesNames.forEach(function(s, i) {
	label(113, [425,470,517,562][i], s, 14.5, "end").style("font-style", "italic");
});

var fstY = function(c) { return d3.scaleLinear().domain(c.fstAxis).range([690 - 112 * c.fstAxis[0], 690 - 112 * c.fstAxis[1]]); };
var ldY = d3.scaleLinear().domain([.132,1.044]).range([908,784]);
var rrY = d3.scaleLinear().domain([-.43,8.5]).range([1074,948]);
var ldColors = ["#ffa500","#ff8c00","#9cc2d0","#4682b4"];

chroms.forEach(function(c, ci) {
	var x = c.x;
	// highlighted regions run from panel B through panel C
	svg.append("g").selectAll("rect").data(c.regions).join("rect")
		.attr("x", function(d) { return x(d[0]); })
		.attr("width", function(d) { return x(d[1]) - x(d[0]); })
		.attr("y", c.top).attr("height", 1094 - c.top).attr("fill", "#dfdcd0");

	// panel B
	label(c.btx, 404, c.name, 24);
	var sx = d3.scaleLinear().domain([0, c.syn[2]]).range([c.syn[0], c.syn[1]]);
	var links = c.links.filter(function(l) { return l[5] == "+"; }).concat(c.links.filter(function(l) { return l[5] == "-"; }));
	svg.append("g").selectAll("path").data(links).join("path")
		.attr("d", function(l) {
			var t = linkY[l[0]][0], b = linkY[l[0]][1];
			return "M" + sx(l[1]) + "," + t + "L" + sx(l[2]) + "," + t + "L" + sx(l[4]) + "," + b + "L" + sx(l[3]) + "," + b + "Z";
		})
		.attr("fill", function(l) { return strandColor[l[5]]; })
		.attr("stroke", function(l) { return strandColor[l[5]]; }).attr("stroke-width", .3);
	c.lines.forEach(function(parts, i) {
		parts.forEach(function(p) {
			svg.append("line").attr("x1", sx(p[0])).attr("x2", sx(p[1])).attr("y1", lineY[i]).attr("y2", lineY[i])
				.attr("stroke", ink).attr("stroke-width", 4).attr("stroke-linecap", "round");
		});
	});

	// Fst, mirrored around zero
	var fy = fstY(c);
	drawFst(x, fy, along(c.fst[1], c.fst[2], c.fst[3]), -1, "#4682b4");
	drawFst(x, fy, along(c.fst[0], c.fst[2], c.fst[3]), 1, "#a85b60");
	var fa = svg.append("g").attr("transform", "translate(" + c.axX + ",0)");
	if (ci == 0) fa.call(d3.axisLeft(fy).tickValues([.5,0,-.5]).tickSize(5).tickSizeOuter(0).tickFormat(function(v) { return Math.abs(v).toFixed(1); }));
	else fa.call(d3.axisLeft(fy).tickValues([.5,.25,0,-.25,-.5]).tickSize(5).tickSizeOuter(0).tickFormat(""));
	cleanAxis(fa);

	// LD
	var ldLine = d3.line().x(function(d) { return x(d[0]); }).y(function(d) { return ldY(d[1]); }).curve(d3.curveCatmullRom);
	[3,0,1,2].forEach(function(k) {
		svg.append("path").attr("d", ldLine(along(c.ld[k], c.ld[4]))).attr("fill", "none")
			.attr("stroke", ldColors[k]).attr("stroke-width", 3.8).attr("stroke-linejoin", "round");
	});
	var la = svg.append("g").attr("transform", "translate(" + c.axX + ",0)")
		.call(d3.axisLeft(ldY).tickValues(c.ldTicks).tickSize(5).tickSizeOuter(0)
			.tickFormat(ci == 0 ? d3.format(".2f") : ""));
	cleanAxis(la);

	// recombination rate
	var rrLine = d3.line().x(function(d) { return x(d[0]); }).y(function(d) { return rrY(d[1]); });
	[0,1,2,3].forEach(function(k) {
		svg.append("path").attr("d", rrLine(along(c.rr[k], c.rr[4]))).attr("fill", "none")
			.attr("stroke", ldColors[k]).attr("stroke-width", 4.4).attr("stroke-linejoin", "round");
	});
	var ra = svg.append("g").attr("transform", "translate(" + c.axX + ",0)")
		.call(d3.axisLeft(rrY).tickValues([0,2,4,6,8]).tickSize(5).tickSizeOuter(0).tickFormat(""));
	cleanAxis(ra);
	if (ci == 0) {
		[[8,"8e"],[4,"4e"],[0,"0.0"]].forEach(function(t) {
			var lab = svg.append("text").attr("x", t[0] ? 76 : 104).attr("y", rrY(t[0]) + 5).attr("text-anchor", t[0] ? "start" : "end")
				.style("font-size", "14px").attr("fill", "#222").text(t[1]);
			if (t[0]) lab.append("tspan").attr("dy", -5).style("font-size", "7px").text("-09");
		});
	}

	// shared x axis
	var xa = svg.append("g").attr("transform", "translate(0,1094)")
		.call(d3.axisBottom(x).tickValues(c.ticks).tickSize(6).tickSizeOuter(0).tickPadding(8)
			.tickFormat(function(v, i) { return c.tl[i]; }));
	cleanAxis(xa);
	// the zero labels of the later panels sit a little lower and to the left, as in the source
	if (ci > 0) xa.selectAll(".tick").filter(function(v) { return v == 0; }).select("text")
		.attr("dy", "1em").attr("dx", ci == 3 ? -6 : -1);
	label(c.lx, 1144, c.lab, 19);
});

rotLabel(50, 688, "Fst", 19);
rotLabel(50, 840, "LD [r²]", 19);
rotLabel(50, 1008, "Recomb. rate [r]", 19.5);

// GWAS tag and strand key
svg.append("rect").attr("x", 1263).attr("y", 391).attr("width", 93).attr("height", 16).attr("fill", "#f6f3ea").attr("stroke", "#e4e1d6");
label(1309.5, 404, "GWAS SNPs", 14);
svg.append("rect").attr("x", 1350).attr("y", 465).attr("width", 22).attr("height", 22).attr("fill", "#b22222");
svg.append("rect").attr("x", 1350).attr("y", 488).attr("width", 22).attr("height", 22).attr("fill", "#bdbdbd");
label(1382, 478, "-", 24);
label(1382, 511, "+", 28);

// Fst and LD keys
[["oir: AP vs NP","#4682b4",626],["ew: AP vs NP","#a85b60",641]].forEach(function(k) {
	svg.append("rect").attr("x", 1272).attr("y", k[2] - 8).attr("width", 32).attr("height", 6).attr("rx", 3).attr("fill", k[1]);
	label(1307, k[2], k[0], 15, "start");
});
["ewAP","oirAP","ewNP","oirNP"].forEach(function(n, i) {
	var yy = [780,796,812,829][i];
	svg.append("line").attr("x1", 1310).attr("x2", 1341).attr("y1", yy).attr("y2", yy)
		.attr("stroke", ldColors[i]).attr("stroke-width", 4).attr("stroke-linecap", "round");
	label(1347, yy + 5, n, 14.5, "start");
});

// ---------- panel D
var depthNames = ["ewLP","ewAP","oirAP","norAP","ewNP","oirNP","norNP"];
var depthColors = ["#ffc000","#c8854a","#cc6600","#ff8c00","#4a7c96","#9bbccd","#aed6e4"];
var dY = d3.scaleLinear().domain([-.092,2.105]).range([1347,1180]);
var geneY = {top:[1191,1201], mid:[1196,1205], low:[1204,1213]};
var dPanels = [
 {x:d3.scaleLinear().domain([5.481,6.025]).range([157,502]), regions:d1Regions, dark:d1Dark, regTop:1186,
  ticks:[5.5,5.6,5.7,5.8,5.9,6], shown:[5.5,5.7,5.9], series:[d1EwLP,d1EwAP,d1OirAP,d1NorAP,d1EwNP,d1OirNP,d1NorNP], lab:"chr1 [Mb]", lx:290, genes:[], xs:null, span:[5.505,5.995]},
 {x:d3.scaleLinear().domain([11.451,12.544]).range([566.5,912]), regions:d2Regions, dark:d2Dark, regTop:1198,
  ticks:[11.5,11.75,12,12.25,12.5], shown:[11.5,12,12.5], series:[d2EwLP,d2EwAP,d2OirAP,d2NorAP,d2EwNP,d2OirNP,d2NorNP], lab:"chr1 [Mb]", lx:738, genes:d2Genes, xs:d2X},
 {x:d3.scaleLinear().domain([6.98,7.522]).range([978,1325]), regions:d3Regions, dark:d3Dark, regTop:1190,
  ticks:[7,7.1,7.2,7.3,7.4], shown:[7,7.2,7.4], series:[d3EwLP,d3EwAP,d3OirAP,d3NorAP,d3EwNP,d3OirNP,d3NorNP], lab:"chr30 [Mb]", lx:1180, genes:d3Genes, xs:null, span:[7.005,7.495]}];
dPanels.forEach(function(p) {
	var x = p.x;
	svg.append("g").selectAll("rect").data(p.regions).join("rect")
		.attr("x", function(d) { return x(d[0]); }).attr("width", function(d) { return x(d[1]) - x(d[0]); })
		.attr("y", p.regTop).attr("height", 1347 - p.regTop).attr("fill", "#dfdcd0");
	svg.append("g").selectAll("rect").data(p.dark).join("rect")
		.attr("x", function(d) { return x(d[0]); }).attr("width", function(d) { return x(d[1]) - x(d[0]); })
		.attr("y", p.regTop == 1186 ? 1180 : 1196).attr("height", p.regTop == 1186 ? 174 : 158).attr("fill", "#c8c8c8");
	svg.append("g").selectAll("line").data([0,.5,1]).join("line")
		.attr("x1", x.range()[0]).attr("x2", x.range()[1])
		.attr("y1", function(d) { return dY(d); }).attr("y2", function(d) { return dY(d); })
		.attr("stroke", "#c4c4c4").attr("stroke-width", 1).attr("stroke-dasharray", "2 3");
	var depthLine = d3.line().x(function(d) { return x(d[0]); }).y(function(d) { return dY(d[1]); });
	p.series.forEach(function(vals, k) {
		var rows = vals.map(function(v, i) {
			var mb = p.xs ? p.xs[i] : p.span[0] + i * (p.span[1] - p.span[0]) / (vals.length - 1);
			return [mb, v / 100];
		});
		svg.append("path").attr("d", depthLine(rows)).attr("fill", "none")
			.attr("stroke", depthColors[k]).attr("stroke-width", 2.4).attr("stroke-linejoin", "round");
	});
	p.genes.forEach(function(g) {
		var yy = geneY[g[3]];
		svg.append("rect").attr("x", x(g[1])).attr("width", x(g[2]) - x(g[1]))
			.attr("y", g[3] == "top" && p.regTop == 1198 ? 1191 : yy[0])
			.attr("height", g[3] == "top" && p.regTop == 1198 ? 16 : yy[1] - yy[0]).attr("fill", "#3a3a3a");
		var t;
		if (g[3] == "top") t = label((x(g[1]) + x(g[2])) / 2 + (g[0] == "CNTNAP2" ? -22 : g[0] == "FSHR" ? -12 : g[0] == "AMPH" ? 14 : 9), 1189, g[0], 15);
		else t = label(x(g[1]) - 2, g[3] == "mid" ? 1200 : 1216, g[0], 15, "end");
		t.style("font-style", "italic");
	});
	var ya = svg.append("g").attr("transform", "translate(" + x.range()[0] + ",0)")
		.call(d3.axisLeft(dY).tickValues([0,.5,1,1.5,2]).tickSize(4).tickSizeOuter(0).tickFormat(d3.format(".1f")));
	cleanAxis(ya);
	var xa = svg.append("g").attr("transform", "translate(0,1348)")
		.call(d3.axisBottom(x).tickValues(p.ticks).tickSize(4).tickSizeOuter(0).tickPadding(7)
			.tickFormat(function(v) { return p.shown.indexOf(v) >= 0 ? d3.format(".1f")(v) : ""; }));
	cleanAxis(xa);
	label(p.lx, 1396, p.lab, 19);
});
rotLabel(109, 1270, "Normalised read depth", 20);
depthNames.forEach(function(n, i) {
	var yy = [1245,1260,1277,1294,1310,1326,1342][i];
	svg.append("line").attr("x1", 1330).attr("x2", 1351).attr("y1", yy).attr("y2", yy)
		.attr("stroke", depthColors[i]).attr("stroke-width", 4).attr("stroke-linecap", "round");
	label(1355, yy + 5, n, 14.5, "start");
});
</script>
